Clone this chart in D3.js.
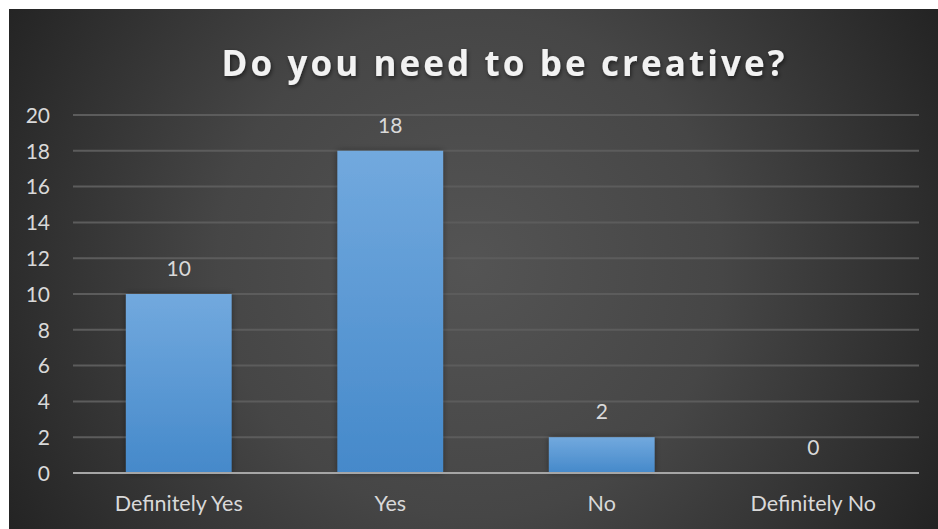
<!DOCTYPE html>
<html><head><meta charset="utf-8">
<script src="https://cdn.jsdelivr.net/npm/d3@7"></script>
<style>html,body{margin:0;padding:0;background:#fff;}svg{display:block;}</style>
</head><body>
<script>
const categories = ["Definitely Yes", "Yes", "No", "Definitely No"];
const values = [10, 18, 2, 0];
const yTicks = [0, 2, 4, 6, 8, 10, 12, 14, 16, 18, 20];
const title = "Do you need to be creative?";

(function () {
const W = 938, H = 529;
const svg = d3.select("body").append("svg").attr("width", W).attr("height", H);
const defs = svg.append("defs");

const bg = defs.append("radialGradient").attr("id", "bg")
  .attr("gradientUnits", "userSpaceOnUse")
  .attr("cx", 470).attr("cy", 265).attr("r", 560);
bg.append("stop").attr("offset", "0").attr("stop-color", "#545454");
bg.append("stop").attr("offset", "0.45").attr("stop-color", "#464646");
bg.append("stop").attr("offset", "1").attr("stop-color", "#202020");

const bar = defs.append("linearGradient").attr("id", "bar").attr("x1", 0).attr("y1", 0).attr("x2", 0).attr("y2", 1);
bar.append("stop").attr("offset", "0").attr("stop-color", "#72a9de");
bar.append("stop").attr("offset", "1").attr("stop-color", "#4589ca");

const sh = defs.append("filter").attr("id", "shadow").attr("x", "-20%").attr("y", "-20%").attr("width", "140%").attr("height", "140%");
sh.append("feDropShadow").attr("dx", 1).attr("dy", 2).attr("stdDeviation", 2).attr("flood-color", "#000").attr("flood-opacity", 0.55);

const bsh = defs.append("filter").attr("id", "bshadow").attr("x", "-20%").attr("y", "-20%").attr("width", "140%").attr("height", "140%");
bsh.append("feDropShadow").attr("dx", 0).attr("dy", 0).attr("stdDeviation", 3).attr("flood-color", "#000").attr("flood-opacity", 0.4);

svg.append("rect").attr("x", 9).attr("y", 9).attr("width", W - 9).attr("height", H - 9).attr("fill", "url(#bg)");

const pl = 73, pr = 919, pt = 115, pb = 473;
const x = d3.scaleBand().domain(categories).range([pl, pr]).paddingInner(0.5).paddingOuter(0.25);
const y = d3.scaleLinear().domain([0, 20]).range([pb, pt]);

svg.append("g").selectAll("line").data(yTicks.filter(d => d !== 0)).join("line")
  .attr("x1", pl).attr("x2", pr)
  .attr("y1", d => y(d)).attr("y2", d => y(d))
  .attr("stroke", "#5c5c5c").attr("stroke-width", 2);

const yAxis = d3.axisLeft(y).tickValues(yTicks).tickSize(0).tickPadding(0);
const ga = svg.append("g").attr("transform", `translate(${50},0)`).call(yAxis);
ga.select(".domain").remove();
ga.selectAll("text").attr("font-family", "Lato, 'Open Sans', sans-serif").attr("font-size", 21)
  .attr("fill", "#d9d9d9").attr("dy", "0.35em");

svg.append("g").selectAll("rect").data(values).join("rect")
  .attr("x", (d, i) => x(categories[i]))
  .attr("y", d => y(d))
  .attr("width", x.bandwidth())
  .attr("height", d => y(0) - y(d))
  .attr("fill", "url(#bar)")
  .attr("filter", "url(#bshadow)");

svg.append("line").attr("x1", pl).attr("x2", pr).attr("y1", pb).attr("y2", pb)
  .attr("stroke", "#a6a6a6").attr("stroke-width", 2);

svg.append("g").selectAll("text").data(values).join("text")
  .attr("x", (d, i) => x(categories[i]) + x.bandwidth() / 2)
  .attr("y", d => y(d) - 18)
  .attr("text-anchor", "middle")
  .attr("font-family", "Lato, 'Open Sans', sans-serif").attr("font-size", 21)
  .attr("fill", "#d9d9d9")
  .text(d => d);

const xAxis = d3.axisBottom(x).tickSize(0).tickPadding(0);
const gx = svg.append("g").attr("transform", `translate(0,${pb})`).call(xAxis);
gx.select(".domain").remove();
gx.selectAll("text").attr("font-family", "Lato, 'Open Sans', sans-serif").attr("font-size", 21.5)
  .attr("fill", "#d9d9d9").attr("dy", 0).attr("y", 38);

svg.append("text").attr("x", 503).attr("y", 76)
  .attr("text-anchor", "middle")
  .attr("font-family", "'Open Sans', Lato, sans-serif").attr("font-weight", "bold").attr("font-size", 35)
  .attr("fill", "#f2f2f2")
  .attr("textLength", 563).attr("lengthAdjust", "spacing")
  .attr("filter", "url(#shadow)")
  .text(title);
})();
</script>
</body></html>
